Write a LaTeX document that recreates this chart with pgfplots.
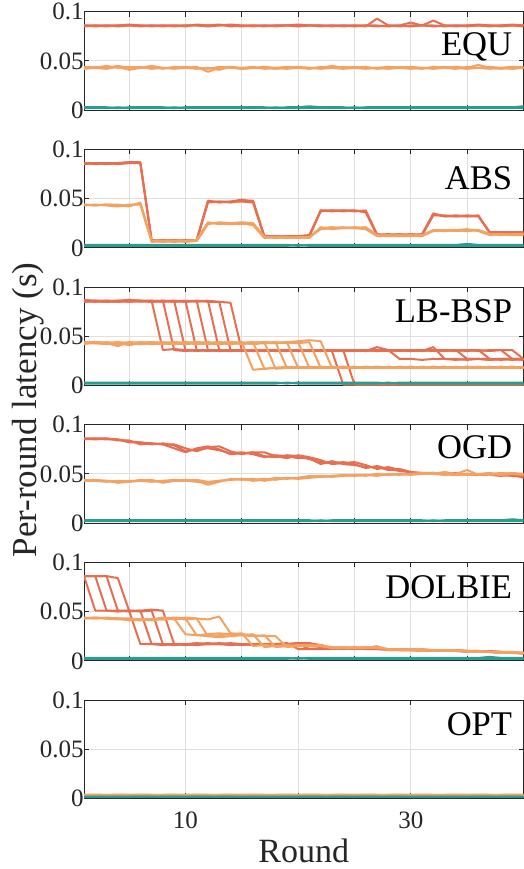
\documentclass[border=0pt]{standalone}
\usepackage{fontspec}
\setmainfont{Liberation Serif}
\usepackage{pgfplots}
\usepackage{pgfplotstable}
\pgfplotsset{compat=1.18}

\definecolor{cred}{HTML}{E76F51}
\definecolor{corange}{HTML}{F4A261}
\definecolor{cteal}{HTML}{2A9D8F}
\definecolor{axc}{HTML}{262626}
\definecolor{gridc}{HTML}{DFDFDF}

% per-round latency, 40 rounds; r* red lines, o* orange lines, t* teal lines
\pgfplotstableread{
x r1 r2 r3 o1 o2 o3 t1 t2
1 0.086 0.085 0.086 0.043 0.044 0.042 0.003 0.002
2 0.086 0.086 0.085 0.044 0.043 0.043 0.003 0.002
3 0.085 0.086 0.086 0.043 0.045 0.042 0.003 0.002
4 0.086 0.085 0.086 0.045 0.043 0.044 0.002 0.003
5 0.087 0.086 0.086 0.043 0.044 0.041 0.003 0.002
6 0.086 0.086 0.085 0.044 0.043 0.043 0.003 0.002
7 0.086 0.085 0.086 0.042 0.044 0.045 0.003 0.002
8 0.085 0.086 0.086 0.043 0.042 0.043 0.003 0.002
9 0.086 0.086 0.085 0.042 0.044 0.043 0.002 0.003
10 0.086 0.085 0.086 0.043 0.043 0.044 0.003 0.002
11 0.086 0.087 0.086 0.044 0.042 0.043 0.003 0.002
12 0.085 0.086 0.086 0.039 0.043 0.042 0.003 0.002
13 0.086 0.086 0.087 0.043 0.041 0.044 0.003 0.002
14 0.087 0.086 0.085 0.044 0.044 0.043 0.003 0.002
15 0.086 0.085 0.086 0.042 0.043 0.042 0.003 0.002
16 0.085 0.086 0.086 0.043 0.044 0.043 0.003 0.002
17 0.086 0.086 0.085 0.044 0.042 0.043 0.003 0.002
18 0.086 0.085 0.086 0.043 0.043 0.042 0.002 0.003
19 0.086 0.086 0.086 0.042 0.044 0.043 0.003 0.002
20 0.087 0.086 0.085 0.043 0.043 0.044 0.003 0.002
21 0.086 0.086 0.086 0.043 0.042 0.043 0.004 0.002
22 0.086 0.085 0.086 0.043 0.044 0.042 0.003 0.002
23 0.085 0.086 0.086 0.045 0.043 0.043 0.003 0.002
24 0.086 0.086 0.085 0.043 0.042 0.044 0.003 0.002
25 0.086 0.085 0.086 0.044 0.043 0.043 0.002 0.003
26 0.085 0.086 0.086 0.043 0.044 0.042 0.003 0.002
27 0.093 0.086 0.085 0.043 0.042 0.043 0.003 0.002
28 0.086 0.085 0.086 0.042 0.043 0.044 0.003 0.002
29 0.085 0.086 0.086 0.043 0.044 0.043 0.003 0.002
30 0.086 0.089 0.085 0.044 0.043 0.042 0.003 0.002
31 0.086 0.086 0.086 0.043 0.042 0.043 0.003 0.002
32 0.086 0.085 0.091 0.042 0.044 0.043 0.003 0.002
33 0.085 0.086 0.086 0.043 0.043 0.044 0.003 0.002
34 0.086 0.086 0.085 0.044 0.042 0.043 0.003 0.002
35 0.086 0.085 0.086 0.043 0.044 0.042 0.003 0.002
36 0.087 0.086 0.086 0.046 0.043 0.043 0.003 0.002
37 0.086 0.086 0.085 0.043 0.042 0.044 0.003 0.002
38 0.085 0.086 0.086 0.042 0.043 0.043 0.003 0.002
39 0.086 0.087 0.086 0.043 0.044 0.042 0.003 0.002
40 0.086 0.086 0.085 0.044 0.043 0.043 0.004 0.002
}\tEQU

\pgfplotstableread{
x r1 r2 r3 o1 o2 o3 t1 t2
1 0.086 0.085 0.086 0.044 0.043 0.044 0.002 0.003
2 0.086 0.086 0.085 0.043 0.044 0.043 0.002 0.003
3 0.085 0.086 0.086 0.044 0.043 0.044 0.002 0.003
4 0.086 0.085 0.086 0.043 0.042 0.044 0.002 0.003
5 0.087 0.086 0.087 0.043 0.044 0.042 0.002 0.003
6 0.087 0.086 0.086 0.045 0.044 0.046 0.002 0.003
7 0.007 0.008 0.007 0.007 0.006 0.007 0.002 0.003
8 0.007 0.007 0.008 0.007 0.007 0.006 0.002 0.003
9 0.008 0.007 0.007 0.006 0.007 0.007 0.002 0.003
10 0.007 0.008 0.007 0.007 0.006 0.007 0.002 0.003
11 0.008 0.007 0.008 0.007 0.007 0.008 0.002 0.003
12 0.047 0.046 0.048 0.024 0.025 0.026 0.002 0.003
13 0.047 0.047 0.046 0.026 0.025 0.024 0.002 0.003
14 0.046 0.047 0.047 0.025 0.024 0.025 0.002 0.003
15 0.048 0.047 0.049 0.026 0.025 0.024 0.002 0.003
16 0.048 0.046 0.047 0.025 0.023 0.025 0.002 0.003
17 0.012 0.011 0.012 0.011 0.010 0.011 0.002 0.003
18 0.011 0.012 0.012 0.010 0.011 0.011 0.002 0.003
19 0.012 0.011 0.011 0.011 0.010 0.010 0.002 0.003
20 0.012 0.012 0.011 0.010 0.011 0.011 0.003 0.002
21 0.013 0.012 0.012 0.011 0.011 0.010 0.002 0.003
22 0.038 0.037 0.038 0.020 0.019 0.021 0.002 0.003
23 0.038 0.038 0.037 0.021 0.020 0.019 0.002 0.003
24 0.037 0.038 0.038 0.020 0.021 0.020 0.002 0.003
25 0.038 0.037 0.038 0.021 0.020 0.020 0.002 0.003
26 0.037 0.038 0.036 0.020 0.019 0.021 0.002 0.003
27 0.013 0.014 0.013 0.012 0.012 0.013 0.002 0.003
28 0.014 0.013 0.013 0.013 0.012 0.012 0.002 0.003
29 0.013 0.013 0.014 0.012 0.013 0.012 0.002 0.003
30 0.013 0.014 0.013 0.012 0.012 0.013 0.002 0.003
31 0.014 0.013 0.013 0.013 0.012 0.012 0.002 0.003
32 0.035 0.033 0.034 0.018 0.017 0.018 0.002 0.003
33 0.032 0.033 0.032 0.018 0.018 0.017 0.002 0.003
34 0.032 0.032 0.033 0.017 0.018 0.018 0.002 0.003
35 0.033 0.032 0.032 0.018 0.019 0.017 0.002 0.004
36 0.032 0.033 0.032 0.018 0.017 0.018 0.002 0.003
37 0.016 0.015 0.016 0.014 0.013 0.014 0.002 0.003
38 0.016 0.016 0.015 0.013 0.014 0.014 0.002 0.003
39 0.015 0.016 0.016 0.014 0.013 0.013 0.002 0.003
40 0.016 0.015 0.016 0.014 0.014 0.013 0.002 0.003
}\tABS

\pgfplotstableread{
x r1 r2 r3 r4 r5 r6 r7 r8 o1 o2 o3 o4 o5 o6 o7 o8 t1 t2
1 0.086 0.085 0.086 0.087 0.085 0.086 0.086 0.085 0.043 0.044 0.043 0.042 0.044 0.043 0.043 0.044 0.002 0.003
2 0.086 0.086 0.085 0.086 0.086 0.085 0.086 0.086 0.044 0.043 0.043 0.044 0.043 0.043 0.044 0.043 0.002 0.003
3 0.085 0.086 0.086 0.085 0.086 0.086 0.085 0.086 0.043 0.043 0.042 0.043 0.044 0.043 0.043 0.043 0.002 0.003
4 0.086 0.085 0.086 0.086 0.085 0.086 0.086 0.085 0.042 0.043 0.044 0.040 0.043 0.044 0.043 0.042 0.002 0.003
5 0.087 0.086 0.085 0.086 0.087 0.086 0.085 0.086 0.043 0.041 0.043 0.044 0.043 0.042 0.044 0.043 0.002 0.003
6 0.086 0.086 0.086 0.085 0.086 0.086 0.086 0.086 0.044 0.043 0.043 0.043 0.042 0.044 0.043 0.043 0.002 0.003
7 0.086 0.085 0.086 0.086 0.085 0.086 0.086 0.085 0.043 0.044 0.042 0.043 0.043 0.043 0.042 0.044 0.002 0.003
8 0.036 0.086 0.085 0.086 0.086 0.085 0.086 0.086 0.043 0.043 0.044 0.042 0.044 0.043 0.043 0.043 0.002 0.003
9 0.037 0.036 0.086 0.085 0.086 0.086 0.085 0.086 0.042 0.043 0.043 0.044 0.043 0.042 0.044 0.043 0.002 0.003
10 0.036 0.035 0.036 0.086 0.085 0.086 0.086 0.085 0.043 0.044 0.043 0.043 0.042 0.044 0.043 0.042 0.002 0.003
11 0.035 0.036 0.036 0.036 0.086 0.085 0.086 0.086 0.044 0.043 0.042 0.043 0.044 0.043 0.043 0.044 0.002 0.003
12 0.036 0.036 0.035 0.036 0.036 0.086 0.085 0.086 0.043 0.042 0.043 0.044 0.043 0.043 0.042 0.043 0.002 0.003
13 0.036 0.035 0.036 0.036 0.035 0.036 0.085 0.085 0.042 0.043 0.044 0.043 0.043 0.044 0.043 0.042 0.002 0.003
14 0.035 0.036 0.036 0.035 0.036 0.036 0.036 0.084 0.043 0.044 0.043 0.042 0.044 0.043 0.043 0.044 0.002 0.003
15 0.036 0.036 0.035 0.036 0.036 0.035 0.036 0.036 0.044 0.043 0.043 0.043 0.042 0.044 0.043 0.043 0.002 0.003
16 0.036 0.035 0.036 0.036 0.035 0.036 0.036 0.035 0.016 0.044 0.043 0.044 0.043 0.042 0.044 0.043 0.002 0.003
17 0.035 0.036 0.036 0.035 0.036 0.036 0.035 0.036 0.017 0.017 0.044 0.043 0.044 0.043 0.043 0.044 0.002 0.003
18 0.036 0.036 0.035 0.036 0.036 0.035 0.036 0.036 0.018 0.018 0.017 0.044 0.043 0.044 0.043 0.043 0.002 0.003
19 0.036 0.035 0.036 0.036 0.035 0.036 0.036 0.035 0.018 0.019 0.018 0.018 0.044 0.043 0.044 0.044 0.003 0.002
20 0.035 0.036 0.036 0.035 0.036 0.036 0.035 0.036 0.019 0.018 0.018 0.019 0.018 0.044 0.043 0.045 0.002 0.003
21 0.036 0.036 0.035 0.036 0.036 0.035 0.036 0.036 0.018 0.018 0.019 0.018 0.018 0.018 0.044 0.046 0.002 0.003
22 0.036 0.035 0.036 0.036 0.035 0.036 0.036 0.035 0.018 0.019 0.018 0.018 0.019 0.018 0.018 0.045 0.002 0.003
23 0.035 0.036 0.036 0.035 0.036 0.036 0.035 0.036 0.019 0.018 0.018 0.019 0.018 0.018 0.019 0.018 0.002 0.003
24 0.036 0.036 0.035 0.036 0.036 0.035 0.001 0.036 0.018 0.019 0.018 0.018 0.019 0.018 0.018 0.019 0.002 0.003
25 0.036 0.035 0.036 0.036 0.035 0.036 0.001 0.001 0.018 0.018 0.019 0.018 0.018 0.019 0.018 0.018 0.002 0.003
26 0.035 0.036 0.036 0.035 0.036 0.036 0.001 0.001 0.019 0.018 0.018 0.019 0.018 0.018 0.019 0.018 0.002 0.003
27 0.039 0.036 0.035 0.036 0.036 0.035 0.001 0.001 0.018 0.019 0.018 0.018 0.019 0.018 0.018 0.019 0.002 0.003
28 0.036 0.035 0.036 0.036 0.035 0.036 0.001 0.001 0.018 0.018 0.019 0.018 0.018 0.019 0.018 0.018 0.003 0.002
29 0.027 0.036 0.036 0.035 0.036 0.036 0.001 0.001 0.019 0.018 0.018 0.019 0.018 0.018 0.019 0.018 0.002 0.003
30 0.027 0.036 0.035 0.036 0.036 0.035 0.001 0.001 0.018 0.019 0.018 0.018 0.019 0.018 0.018 0.019 0.002 0.003
31 0.026 0.035 0.036 0.036 0.035 0.036 0.001 0.001 0.018 0.018 0.019 0.018 0.018 0.019 0.018 0.018 0.002 0.003
32 0.027 0.039 0.036 0.035 0.036 0.036 0.001 0.001 0.019 0.018 0.018 0.019 0.018 0.018 0.019 0.018 0.002 0.003
33 0.027 0.027 0.035 0.036 0.036 0.035 0.001 0.001 0.018 0.019 0.018 0.018 0.019 0.018 0.018 0.019 0.002 0.003
34 0.026 0.027 0.036 0.036 0.035 0.036 0.001 0.001 0.018 0.018 0.019 0.018 0.018 0.019 0.018 0.018 0.002 0.003
35 0.027 0.026 0.027 0.035 0.036 0.036 0.001 0.001 0.019 0.018 0.018 0.019 0.018 0.018 0.019 0.018 0.002 0.003
36 0.027 0.027 0.027 0.036 0.036 0.035 0.001 0.001 0.018 0.019 0.018 0.018 0.019 0.018 0.018 0.019 0.002 0.003
37 0.026 0.027 0.026 0.027 0.035 0.036 0.001 0.001 0.018 0.018 0.019 0.018 0.018 0.019 0.018 0.018 0.002 0.003
38 0.027 0.026 0.027 0.027 0.036 0.036 0.001 0.001 0.019 0.018 0.018 0.019 0.018 0.018 0.019 0.018 0.002 0.003
39 0.027 0.027 0.027 0.026 0.027 0.036 0.001 0.001 0.018 0.019 0.018 0.018 0.019 0.018 0.018 0.019 0.002 0.003
40 0.026 0.027 0.026 0.027 0.027 0.027 0.001 0.001 0.018 0.018 0.019 0.018 0.018 0.019 0.018 0.018 0.002 0.003
}\tLBBSP

\pgfplotstableread{
x r1 r2 r3 o1 o2 o3 t1 t2
1 0.086 0.085 0.086 0.043 0.044 0.043 0.002 0.003
2 0.086 0.086 0.085 0.044 0.043 0.043 0.002 0.003
3 0.085 0.086 0.086 0.043 0.043 0.042 0.002 0.003
4 0.085 0.084 0.085 0.042 0.041 0.043 0.002 0.003
5 0.082 0.084 0.083 0.043 0.042 0.042 0.002 0.003
6 0.082 0.080 0.082 0.043 0.044 0.043 0.002 0.003
7 0.081 0.081 0.080 0.042 0.043 0.044 0.002 0.003
8 0.080 0.080 0.081 0.043 0.042 0.041 0.002 0.003
9 0.076 0.080 0.079 0.044 0.043 0.043 0.002 0.003
10 0.072 0.076 0.073 0.043 0.044 0.043 0.002 0.003
11 0.076 0.073 0.075 0.042 0.043 0.044 0.002 0.003
12 0.078 0.077 0.076 0.041 0.039 0.042 0.002 0.003
13 0.075 0.078 0.074 0.043 0.042 0.043 0.002 0.003
14 0.070 0.073 0.071 0.044 0.045 0.044 0.002 0.003
15 0.071 0.070 0.072 0.045 0.044 0.045 0.002 0.003
16 0.072 0.072 0.070 0.043 0.045 0.044 0.002 0.003
17 0.068 0.072 0.067 0.044 0.043 0.045 0.002 0.003
18 0.067 0.068 0.069 0.046 0.045 0.044 0.002 0.003
19 0.069 0.066 0.068 0.045 0.046 0.046 0.002 0.003
20 0.068 0.069 0.066 0.046 0.046 0.045 0.002 0.003
21 0.065 0.067 0.066 0.048 0.047 0.046 0.002 0.003
22 0.062 0.064 0.060 0.047 0.048 0.047 0.003 0.002
23 0.061 0.060 0.063 0.048 0.047 0.048 0.002 0.003
24 0.062 0.061 0.060 0.049 0.048 0.048 0.002 0.003
25 0.060 0.062 0.059 0.048 0.049 0.049 0.002 0.003
26 0.056 0.059 0.057 0.049 0.049 0.048 0.002 0.003
27 0.058 0.055 0.057 0.048 0.049 0.050 0.002 0.003
28 0.055 0.057 0.054 0.050 0.049 0.049 0.002 0.003
29 0.053 0.054 0.055 0.049 0.050 0.050 0.002 0.003
30 0.052 0.051 0.052 0.050 0.050 0.049 0.002 0.003
31 0.051 0.051 0.050 0.051 0.050 0.050 0.002 0.003
32 0.050 0.051 0.051 0.050 0.051 0.050 0.003 0.002
33 0.051 0.050 0.050 0.049 0.050 0.052 0.002 0.003
34 0.050 0.051 0.049 0.050 0.049 0.050 0.002 0.003
35 0.050 0.049 0.050 0.054 0.050 0.049 0.002 0.003
36 0.049 0.050 0.049 0.049 0.050 0.050 0.002 0.003
37 0.049 0.049 0.050 0.050 0.049 0.051 0.002 0.003
38 0.049 0.048 0.049 0.051 0.050 0.049 0.002 0.003
39 0.050 0.049 0.048 0.050 0.051 0.050 0.002 0.004
40 0.046 0.048 0.047 0.049 0.050 0.050 0.002 0.003
}\tOGD

\pgfplotstableread{
x r1 r2 r3 r4 o1 o2 o3 o4 t1 t2
1 0.086 0.086 0.086 0.086 0.043 0.044 0.043 0.043 0.002 0.003
2 0.051 0.086 0.086 0.086 0.044 0.043 0.043 0.044 0.002 0.003
3 0.051 0.051 0.086 0.086 0.043 0.043 0.044 0.043 0.002 0.003
4 0.050 0.051 0.051 0.084 0.043 0.042 0.043 0.043 0.002 0.003
5 0.051 0.050 0.051 0.051 0.041 0.042 0.042 0.043 0.002 0.003
6 0.017 0.051 0.050 0.051 0.042 0.041 0.042 0.042 0.002 0.003
7 0.017 0.017 0.051 0.052 0.042 0.042 0.041 0.042 0.002 0.003
8 0.016 0.017 0.017 0.051 0.044 0.042 0.043 0.042 0.002 0.003
9 0.017 0.016 0.017 0.017 0.043 0.044 0.042 0.043 0.002 0.003
10 0.017 0.017 0.016 0.017 0.027 0.043 0.044 0.042 0.002 0.003
11 0.018 0.017 0.017 0.016 0.026 0.026 0.043 0.043 0.002 0.003
12 0.017 0.017 0.018 0.017 0.027 0.025 0.025 0.042 0.002 0.003
13 0.017 0.018 0.017 0.017 0.028 0.026 0.024 0.045 0.002 0.003
14 0.016 0.017 0.017 0.018 0.027 0.027 0.025 0.028 0.002 0.003
15 0.017 0.016 0.017 0.017 0.028 0.026 0.026 0.027 0.002 0.003
16 0.017 0.017 0.016 0.017 0.015 0.027 0.025 0.026 0.002 0.003
17 0.017 0.017 0.017 0.016 0.016 0.014 0.026 0.025 0.002 0.003
18 0.016 0.017 0.017 0.017 0.015 0.015 0.014 0.025 0.002 0.003
19 0.017 0.016 0.018 0.017 0.015 0.016 0.015 0.014 0.002 0.003
20 0.018 0.017 0.012 0.018 0.015 0.015 0.016 0.015 0.003 0.002
21 0.018 0.012 0.012 0.017 0.016 0.015 0.015 0.016 0.002 0.003
22 0.016 0.012 0.013 0.016 0.015 0.016 0.015 0.015 0.002 0.003
23 0.013 0.012 0.013 0.012 0.014 0.013 0.014 0.013 0.002 0.003
24 0.013 0.013 0.012 0.013 0.013 0.014 0.013 0.014 0.002 0.003
25 0.012 0.013 0.013 0.012 0.014 0.013 0.013 0.013 0.002 0.003
26 0.013 0.012 0.012 0.013 0.013 0.014 0.014 0.013 0.002 0.003
27 0.012 0.012 0.013 0.012 0.015 0.013 0.014 0.014 0.002 0.003
28 0.011 0.012 0.011 0.012 0.011 0.012 0.011 0.012 0.002 0.003
29 0.011 0.011 0.012 0.011 0.011 0.011 0.012 0.011 0.002 0.003
30 0.011 0.011 0.011 0.012 0.012 0.011 0.011 0.011 0.002 0.003
31 0.010 0.011 0.011 0.011 0.011 0.012 0.011 0.010 0.002 0.003
32 0.011 0.010 0.011 0.010 0.010 0.011 0.011 0.011 0.002 0.003
33 0.010 0.011 0.010 0.011 0.011 0.010 0.010 0.011 0.002 0.003
34 0.010 0.010 0.011 0.010 0.010 0.010 0.011 0.010 0.002 0.003
35 0.009 0.010 0.010 0.010 0.010 0.010 0.009 0.010 0.002 0.003
36 0.009 0.009 0.010 0.009 0.009 0.010 0.009 0.009 0.002 0.003
37 0.009 0.009 0.009 0.010 0.009 0.009 0.009 0.009 0.002 0.004
38 0.009 0.008 0.009 0.009 0.008 0.009 0.009 0.008 0.002 0.003
39 0.008 0.009 0.008 0.008 0.008 0.008 0.009 0.008 0.002 0.003
40 0.008 0.007 0.008 0.008 0.007 0.008 0.008 0.008 0.002 0.003
}\tDOLBIE

\pgfplotstableread{
x r1 o1 o2 t1 t2
1 0.003 0.004 0.0035 0.0015 0.002
5 0.003 0.0035 0.004 0.0015 0.002
10 0.003 0.004 0.0035 0.002 0.0015
15 0.003 0.0035 0.004 0.0015 0.002
20 0.003 0.004 0.0035 0.0015 0.002
25 0.003 0.0035 0.004 0.002 0.0015
30 0.003 0.004 0.0035 0.0015 0.002
35 0.003 0.0035 0.004 0.0015 0.002
40 0.003 0.004 0.0035 0.002 0.0015
}\tOPT

\pgfplotsset{
  panel/.style={
    scale only axis, width=219.75pt, height=49.25pt, anchor=south west,
    xmin=1, xmax=40, ymin=0, ymax=0.1,
    xtick={5,10,...,35}, xticklabels={},
    ytick={0,0.05,0.1}, yticklabels={0,0.05,0.1},
    grid=major, major grid style={draw=gridc, line width=0.5pt},
    axis line style={draw=axc, line width=0.5pt},
    major tick length=2.5pt, tick style={draw=axc, line width=0.5pt},
    tick label style={font=\fontsize{12.5}{14}\selectfont, text=axc},
    yticklabel style={inner xsep=0pt},
    /pgf/number format/assume math mode=true,
    every axis plot/.append style={no markers, line width=1pt, line join=round},
  },
  lr/.style={draw=cred},
  lo/.style={draw=corange},
  lt/.style={draw=cteal},
}
\newcommand{\plabel}[2]{\node[anchor=base east, inner sep=0pt, font=\fontsize{17.3}{18}\selectfont]
  at (rel axis cs:0.975,#2) {#1};}

\begin{document}
\begin{tikzpicture}
\useasboundingbox (0,0) rectangle (262pt,434.5pt);

\begin{axis}[panel, at={(42pt,379.4pt)}]
\pgfplotsinvokeforeach{r1,r2,r3}{\addplot[lr] table[x=x,y=#1]{\tEQU};}
\pgfplotsinvokeforeach{o1,o2,o3}{\addplot[lo] table[x=x,y=#1]{\tEQU};}
\pgfplotsinvokeforeach{t1,t2}{\addplot[lt] table[x=x,y=#1]{\tEQU};}
\plabel{EQU}{0.56}
\end{axis}

\begin{axis}[panel, at={(42pt,310.57pt)}]
\pgfplotsinvokeforeach{r1,r2,r3}{\addplot[lr] table[x=x,y=#1]{\tABS};}
\pgfplotsinvokeforeach{o1,o2,o3}{\addplot[lo] table[x=x,y=#1]{\tABS};}
\pgfplotsinvokeforeach{t1,t2}{\addplot[lt] table[x=x,y=#1]{\tABS};}
\plabel{ABS}{0.59}
\end{axis}

\begin{axis}[panel, at={(42pt,241.74pt)}]
\pgfplotsinvokeforeach{r1,r2,r3,r4,r5,r6,r7,r8}{\addplot[lr] table[x=x,y=#1]{\tLBBSP};}
\pgfplotsinvokeforeach{o1,o2,o3,o4,o5,o6,o7,o8}{\addplot[lo] table[x=x,y=#1]{\tLBBSP};}
\pgfplotsinvokeforeach{t1,t2}{\addplot[lt] table[x=x,y=#1]{\tLBBSP};}
\plabel{LB-BSP}{0.64}
\end{axis}

\begin{axis}[panel, at={(42pt,172.91pt)}]
\pgfplotsinvokeforeach{r1,r2,r3}{\addplot[lr] table[x=x,y=#1]{\tOGD};}
\pgfplotsinvokeforeach{o1,o2,o3}{\addplot[lo] table[x=x,y=#1]{\tOGD};}
\pgfplotsinvokeforeach{t1,t2}{\addplot[lt] table[x=x,y=#1]{\tOGD};}
\plabel{OGD}{0.66}
\end{axis}

\begin{axis}[panel, at={(42pt,104.08pt)}]
\pgfplotsinvokeforeach{r1,r2,r3,r4}{\addplot[lr] table[x=x,y=#1]{\tDOLBIE};}
\pgfplotsinvokeforeach{o1,o2,o3,o4}{\addplot[lo] table[x=x,y=#1]{\tDOLBIE};}
\pgfplotsinvokeforeach{t1,t2}{\addplot[lt] table[x=x,y=#1]{\tDOLBIE};}
\plabel{DOLBIE}{0.63}
\end{axis}

\begin{axis}[panel, at={(42pt,35.25pt)},
  xtick={10,20,30}, xticklabels={10,,30},
  xticklabel style={yshift=-3pt}]
\addplot[lr] table[x=x,y=r1]{\tOPT};
\pgfplotsinvokeforeach{o1,o2}{\addplot[lo] table[x=x,y=#1]{\tOPT};}
\pgfplotsinvokeforeach{t1,t2}{\addplot[lt] table[x=x,y=#1]{\tOPT};}
\plabel{OPT}{0.64}
\end{axis}

\node[rotate=90, anchor=base, font=\fontsize{17.5}{18}\selectfont, text=axc]
  at (18.5pt,229.5pt) {Per-round latency (s)};
\node[anchor=base, inner sep=0pt, font=\fontsize{17}{17}\selectfont, text=axc]
  at (151.9pt,3pt) {Round};
\end{tikzpicture}
\end{document}
